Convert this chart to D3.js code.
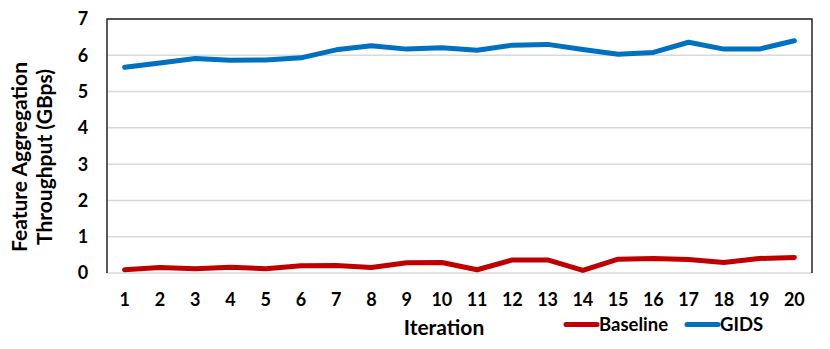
<!DOCTYPE html>
<html>
<head>
<meta charset="utf-8">
<script src="https://cdn.jsdelivr.net/npm/d3@7"></script>
<style>
  body { margin: 0; background: #fff; }
  svg { display: block; font-family: Lato, "Liberation Sans", sans-serif; font-weight: bold; }
</style>
</head>
<body>
<div id="chart"></div>
<script>
// data
const iterations = d3.range(1, 21);
const baseline = [0.09, 0.15, 0.12, 0.16, 0.12, 0.2, 0.21, 0.15, 0.28, 0.29,
                  0.09, 0.36, 0.36, 0.07, 0.38, 0.4, 0.37, 0.29, 0.4, 0.43];
const gids = [5.67, 5.79, 5.91, 5.86, 5.87, 5.93, 6.15, 6.26, 6.17, 6.21,
              6.14, 6.28, 6.3, 6.16, 6.03, 6.08, 6.36, 6.17, 6.17, 6.4];
const yTicks = [0, 1, 2, 3, 4, 5, 6, 7];
const seriesNames = ["Baseline", "GIDS"];
const seriesColors = ["#C00000", "#0070C0"];

const width = 830, height = 349;
const margin = { left: 107, top: 19, right: 18, bottom: 76 };

const svg = d3.select("#chart").append("svg")
  .attr("width", width).attr("height", height);

const x = d3.scaleBand().domain(iterations)
  .range([margin.left, width - margin.right]);
const y = d3.scaleLinear().domain([0, 7])
  .range([height - margin.bottom, margin.top]);

// gridlines
svg.append("g").selectAll("line").data(yTicks).join("line")
  .attr("x1", margin.left).attr("x2", width - margin.right)
  .attr("y1", d => y(d)).attr("y2", d => y(d))
  .attr("stroke", "#d9d9d9").attr("stroke-width", 1.5);

// frame: top, left, right
const x0 = margin.left, x1 = width - margin.right;
svg.append("path")
  .attr("d", `M${x0},${y(0)}V${y(7)}H${x1}V${y(0)}`)
  .attr("fill", "none").attr("stroke", "#262626").attr("stroke-width", 1.5);

// y tick labels
svg.append("g").selectAll("text").data(yTicks).join("text")
  .attr("x", 83).attr("y", d => y(d)).attr("dy", "0.36em")
  .attr("text-anchor", "middle").attr("font-size", 18).attr("fill", "#000")
  .text(d => d);

// x tick labels
svg.append("g").selectAll("text").data(iterations).join("text")
  .attr("x", d => x(d) + x.bandwidth() / 2).attr("y", 306)
  .attr("text-anchor", "middle").attr("font-size", 18).attr("fill", "#000")
  .text(d => d);

// axis titles
svg.append("text").attr("x", 444).attr("y", 335)
  .attr("text-anchor", "middle").attr("font-size", 21).text("Iteration");

const yt = svg.append("text").attr("transform", "translate(0,157) rotate(-90)")
  .attr("text-anchor", "middle").attr("font-size", 21);
yt.append("tspan").attr("x", 0).attr("y", 27).text("Feature Aggregation");
yt.append("tspan").attr("x", 0).attr("y", 52).text("Throughput (GBps)");

// lines
const line = d3.line()
  .x((d, i) => x(iterations[i]) + x.bandwidth() / 2)
  .y(d => y(d));

[baseline, gids].forEach((vals, k) => {
  svg.append("path").datum(vals)
    .attr("d", line)
    .attr("fill", "none").attr("stroke", seriesColors[k])
    .attr("stroke-width", 5).attr("stroke-linecap", "round")
    .attr("stroke-linejoin", "round");
});

// legend
const legendX = [566, 687];
seriesNames.forEach((name, k) => {
  const g = svg.append("g").attr("transform", `translate(${legendX[k]},324.5)`);
  g.append("line").attr("x1", 0).attr("x2", 31)
    .attr("stroke", seriesColors[k]).attr("stroke-width", 5)
    .attr("stroke-linecap", "round");
  g.append("text").attr("x", 33).attr("y", 6.5).attr("font-size", 18.5).text(name);
});
</script>
</body>
</html>
